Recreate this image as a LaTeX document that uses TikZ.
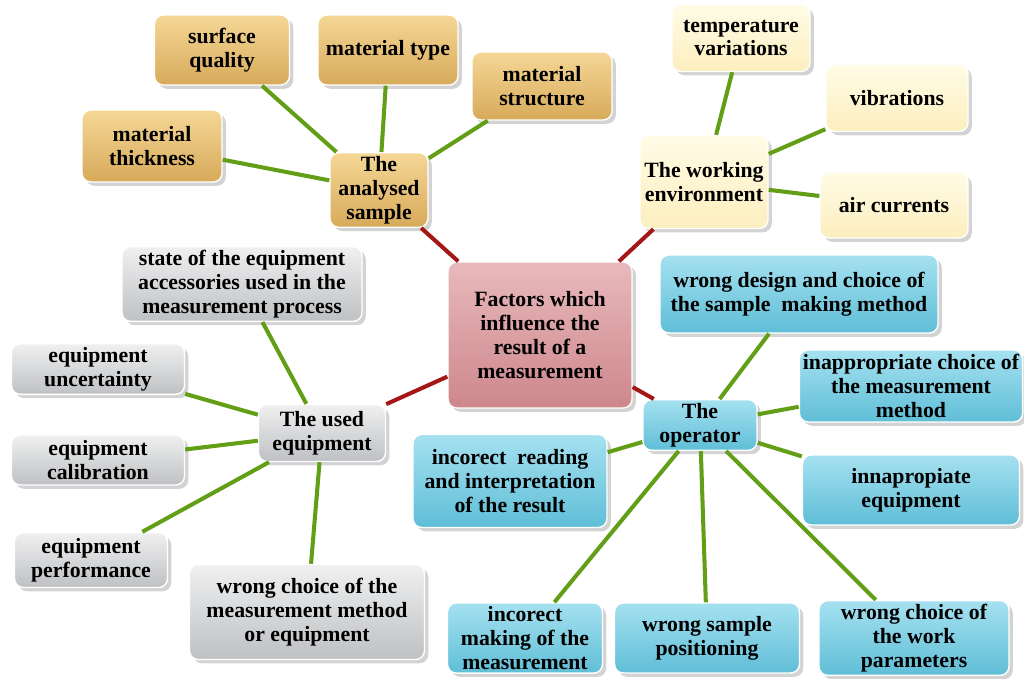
\documentclass[tikz,border=0pt]{standalone}
\usepackage{fontspec}
\newfontfamily\boxfont{Liberation Serif}
\usetikzlibrary{shadows}

\definecolor{twiggreen}{RGB}{98,158,22}
\definecolor{branchred}{RGB}{165,22,22}

\tikzset{
	box/.style={rounded corners=5pt, align=center, inner sep=2pt, drop shadow={opacity=0.35},
		font=\boxfont\bfseries\fontsize{12.4}{13.6}\selectfont, draw=white, line width=0.8pt},
	mainbox/.style={box, top color={rgb,255:red,232;green,185;blue,188}, bottom color={rgb,255:red,205;green,135;blue,140}},
	goldbox/.style={box, top color={rgb,255:red,245;green,215;blue,150}, bottom color={rgb,255:red,215;green,170;blue,90}},
	envbox/.style={box, top color={rgb,255:red,255;green,252;blue,230}, bottom color={rgb,255:red,252;green,238;blue,190}},
	equipbox/.style={box, top color={rgb,255:red,240;green,240;blue,240}, bottom color={rgb,255:red,190;green,192;blue,195}},
	operbox/.style={box, top color={rgb,255:red,165;green,225;blue,240}, bottom color={rgb,255:red,95;green,190;blue,215}},
	twig/.style={twiggreen, line width=2.3pt},
	branch/.style={branchred, line width=2.3pt}
}

\begin{document}
\begin{tikzpicture}[x=0.02cm, y=-0.02cm]
	\useasboundingbox (0,0) rectangle (1024,679);
	
	% centre of the map
	\node[mainbox, minimum width=3.68cm, minimum height=2.92cm] (factors) at (540,335)
		{Factors which\\influence the\\result of a\\measurement};
	
	% the four hubs
	\node[goldbox, minimum width=1.96cm, minimum height=1.4cm] (sample) at (379,190) {The\\analysed\\sample};
	\node[envbox, minimum width=2.56cm, minimum height=1.86cm] (environment) at (704,182) {The working\\environment};
	\node[equipbox, minimum width=2.54cm, minimum height=1.14cm] (equipment) at (322,433) {The used\\equipment};
	\node[operbox, minimum width=2.28cm, minimum height=1.0cm] (operator) at (700,425) {The\\operator};
	
	% analysed sample
	\node[goldbox, minimum width=2.7cm, minimum height=1.4cm] (surface) at (222,50) {surface\\quality};
	\node[goldbox, minimum width=2.8cm, minimum height=1.4cm] (mattype) at (388,50) {material type};
	\node[goldbox, minimum width=2.8cm, minimum height=1.36cm] (matstruct) at (542,86) {material\\structure};
	\node[goldbox, minimum width=2.8cm, minimum height=1.44cm] (matthick) at (152,146) {material\\thickness};
	
	% working environment
	\node[envbox, minimum width=2.76cm, minimum height=1.34cm] (temperature) at (741,38) {temperature\\variations};
	\node[envbox, minimum width=2.84cm, minimum height=1.34cm] (vibrations) at (897,98) {vibrations};
	\node[envbox, minimum width=2.96cm, minimum height=1.32cm] (aircurrents) at (894,205) {air currents};
	
	% used equipment
	\node[equipbox, minimum width=4.8cm, minimum height=1.36cm] (accessories) at (242,284)
		{state of the equipment\\accessories used in the\\measurement process};
	\node[equipbox, minimum width=3.46cm, minimum height=0.96cm] (uncertainty) at (98,369) {equipment\\uncertainty};
	\node[equipbox, minimum width=3.46cm, minimum height=1.0cm] (calibration) at (98,460) {equipment\\calibration};
	\node[equipbox, minimum width=3.06cm, minimum height=1.1cm] (performance) at (91,560) {equipment\\performance};
	\node[equipbox, minimum width=4.7cm, minimum height=1.9cm] (wrongmethod) at (307,612)
		{wrong choice of the\\measurement method\\or equipment};
	
	% operator
	\node[operbox, minimum width=5.56cm, minimum height=1.56cm] (design) at (799,294)
		{wrong design and choice of\\the sample\ \ making method};
	\node[operbox, minimum width=4.44cm, minimum height=1.44cm] (inapchoice) at (911,386)
		{inappropriate choice of\\the measurement\\method};
	\node[operbox, minimum width=3.88cm, minimum height=1.86cm] (reading) at (510,481)
		{incorect\ \ reading\\and interpretation\\of the result};
	\node[operbox, minimum width=4.34cm, minimum height=1.4cm] (inapequip) at (911,490) {innapropiate\\equipment};
	\node[operbox, minimum width=3.1cm, minimum height=1.4cm] (making) at (525,638)
		{incorect\\making of the\\measurement};
	\node[operbox, minimum width=3.7cm, minimum height=1.4cm] (positioning) at (707,638) {wrong sample\\positioning};
	\node[operbox, minimum width=3.8cm, minimum height=1.4cm] (workparam) at (914,638)
		{wrong choice of\\the work\\parameters};
	
	% branches to the centre
	\foreach \hub in {sample,environment,equipment,operator}
		\draw[branch] (\hub) -- (factors);
	
	% twigs to the hubs
	\foreach \leaf in {surface,mattype,matstruct,matthick}
		\draw[twig] (\leaf) -- (sample);
	\foreach \leaf in {temperature,vibrations,aircurrents}
		\draw[twig] (\leaf) -- (environment);
	\foreach \leaf in {accessories,uncertainty,calibration,performance,wrongmethod}
		\draw[twig] (\leaf) -- (equipment);
	\foreach \leaf in {design,inapchoice,reading,inapequip,making,positioning,workparam}
		\draw[twig] (\leaf) -- (operator);
	
\end{tikzpicture}
\end{document}
